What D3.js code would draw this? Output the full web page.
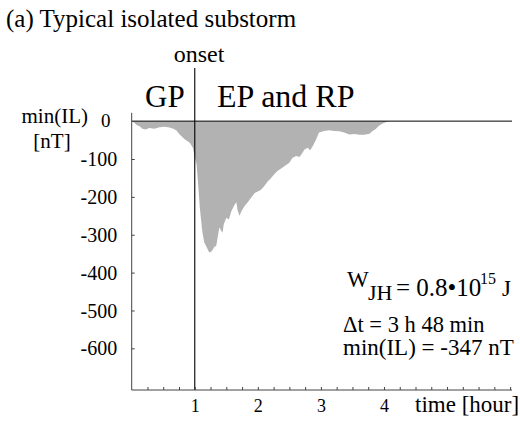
<!DOCTYPE html>
<html>
<head>
<meta charset="utf-8">
<script src="https://cdn.jsdelivr.net/npm/d3@7"></script>
<style>
  html, body { margin: 0; padding: 0; background: #fff; }
  svg { display: block; }
  svg text { font-family: "Liberation Serif", "Times New Roman", serif; fill: #000; }
</style>
</head>
<body>
<svg id="chart" width="520" height="423"></svg>
<script>
// Time since start of the record [hour]
const hours = [0, 0.03, 0.08, 0.13, 0.17, 0.22, 0.28, 0.36, 0.44, 0.52, 0.60, 0.66, 0.71, 0.76,
  0.84, 0.92, 0.97, 1.00, 1.03, 1.05, 1.08, 1.12, 1.15, 1.21, 1.23, 1.26, 1.29, 1.31, 1.34,
  1.37, 1.39, 1.42, 1.44, 1.46, 1.50, 1.54, 1.58, 1.63, 1.66, 1.68, 1.71, 1.74, 1.79, 1.84,
  1.89, 1.95, 2.00, 2.05, 2.10, 2.16, 2.21, 2.26, 2.31, 2.37, 2.42, 2.50, 2.55, 2.61, 2.66,
  2.69, 2.74, 2.79, 2.83, 2.87, 2.92, 2.97, 3.05, 3.13, 3.21, 3.29, 3.37, 3.45, 3.53, 3.61,
  3.69, 3.77, 3.82, 3.87, 3.92, 3.98, 4.06, 4.11];
// Minimum of the IL index [nT]
const minIL = [0, -3, -10, -14, -20, -22, -18, -20, -16, -15, -17, -20, -25, -35,
  -48, -57, -70, -95, -115, -159, -229, -292, -320, -340, -347, -345, -338, -332, -330,
  -300, -280, -290, -295, -272, -255, -260, -238, -221, -214, -236, -250, -238, -224, -214,
  -203, -190, -186, -181, -172, -159, -150, -140, -132, -125, -119, -110, -97, -92, -95,
  -88, -75, -70, -77, -66, -50, -30, -26, -24, -26, -27, -30, -35, -34, -36,
  -36, -33, -26, -21, -12, -6, -1, 0];

const yTickValues = [-600, -500, -400, -300, -200, -100];
const xLabelValues = [1, 2, 3, 4];
const xMinorTicks = d3.range(0.25, 6.01, 0.25);
const onsetHour = 1;

const SERIF = "Liberation Serif, Times New Roman, serif";
const svg = d3.select("#chart");

const x = d3.scaleLinear().domain([0, 6.03]).range([131.7, 512]);
const y = d3.scaleLinear().domain([-710, 22]).range([390, 112.8]);

const series = hours.map((h, i) => ({ h, v: minIL[i] }));

// Filled IL curve
const area = d3.area()
  .x(d => x(d.h))
  .y0(y(0))
  .y1(d => y(d.v));

svg.append("path")
  .datum(series)
  .attr("d", area)
  .attr("fill", "#b2b2b2");

// Zero reference line
svg.append("line")
  .attr("x1", x(0)).attr("x2", x(6.03))
  .attr("y1", y(0)).attr("y2", y(0))
  .attr("stroke", "#000").attr("stroke-width", 1);

// Onset marker
svg.append("line")
  .attr("x1", x(onsetHour)).attr("x2", x(onsetHour))
  .attr("y1", 68).attr("y2", y(-710))
  .attr("stroke", "#000").attr("stroke-width", 1.1);

// Y axis with inward ticks
const yAxis = d3.axisLeft(y)
  .tickValues(yTickValues)
  .tickSize(-3)
  .tickPadding(14.5)
  .tickFormat(d => "-" + Math.abs(d));

const gy = svg.append("g")
  .attr("transform", `translate(${x(0)},0)`)
  .attr("font-family", SERIF)
  .call(yAxis);
gy.select(".domain").attr("d", `M0,${y(22)}V${y(-710)}`).attr("stroke", "#444");
gy.selectAll(".tick line").attr("stroke", "#444");
gy.selectAll("text")
  .attr("font-size", 20)
  .attr("dy", "0.33em");

// X axis: quarter-hour ticks pointing inward
const xAxisMinor = d3.axisBottom(x)
  .tickValues(xMinorTicks)
  .tickSize(-3)
  .tickFormat("");

const gx = svg.append("g")
  .attr("transform", `translate(0,${y(-710)})`)
  .call(xAxisMinor);
gx.select(".domain").attr("d", `M${x(0)},0H${x(6.03)}`).attr("stroke", "#444");
gx.selectAll(".tick line").attr("stroke", "#444");

// X axis hour labels
const xAxisLabels = d3.axisBottom(x)
  .tickValues(xLabelValues)
  .tickSize(0)
  .tickPadding(9)
  .tickFormat(d3.format("d"));

const gxl = svg.append("g")
  .attr("transform", `translate(0,${y(-710)})`)
  .attr("font-family", SERIF)
  .call(xAxisLabels);
gxl.select(".domain").remove();
gxl.selectAll("text").attr("font-size", 18);

// Text labels
function label(txt, xPos, yPos, size, anchor) {
  return svg.append("text")
    .attr("x", xPos).attr("y", yPos)
    .attr("font-family", SERIF)
    .attr("font-size", size)
    .attr("text-anchor", anchor || "start")
    .text(txt);
}

label("(a) Typical isolated substorm", 6, 27, 25);
label("onset", 199, 62, 24, "middle");
label("GP", 145, 107, 31);
label("EP and RP", 217, 107, 32);

label("min(IL)", 88, 123, 21, "end");
label("0", 110.5, 127, 19, "end");
label("[nT]", 52, 147.5, 21, "middle");

label("time [hour]", 415, 412, 23);

// Energy annotation: W with subscript JH, power of ten with superscript
const wj = svg.append("text")
  .attr("y", 296)
  .attr("font-family", SERIF);
wj.append("tspan").attr("x", 347).attr("y", 287).attr("font-size", 23).text("W");
wj.append("tspan").attr("x", 368).attr("y", 300).attr("font-size", 22).text("JH");
wj.append("tspan").attr("x", 396).attr("y", 296).attr("font-size", 25).text("= 0.8\u202210");
wj.append("tspan").attr("x", 480).attr("y", 284).attr("font-size", 16).text("15");
wj.append("tspan").attr("x", 502).attr("y", 296).attr("font-size", 23).text("J");

label("\u0394t = 3 h 48 min", 343, 332, 22.5);
label("min(IL) = -347 nT", 343, 355, 23);
</script>
</body>
</html>
